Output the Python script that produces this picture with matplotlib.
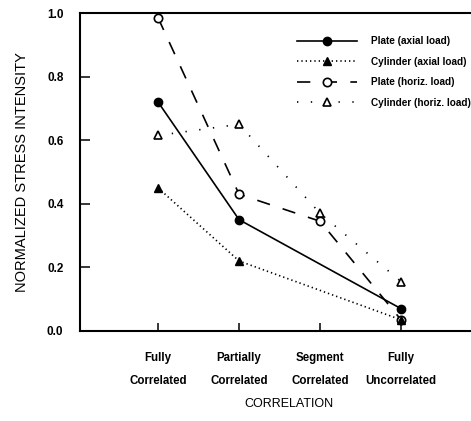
import numpy as np
import matplotlib
matplotlib.use("Agg")
import matplotlib.pyplot as plt

plt.rcParams["font.family"] = ["Liberation Sans", "DejaVu Sans"]

# ─── Datos ──────────────────────────────────────────────────────────────────
categories = ["Fully\nCorrelated", "Partially\nCorrelated",
              "Segment\nCorrelated", "Fully\nUncorrelated"]

# las series "axial" no tienen punto en "Segment Correlated"
x_axial = [0, 1, 3]
x_horiz = [0, 1, 2, 3]

plate_axial = [0.72, 0.35, 0.07]
cyl_axial = [0.45, 0.22, 0.035]
plate_horiz = [0.985, 0.43, 0.345, 0.035]
cyl_horiz = [0.615, 0.65, 0.37, 0.155]

yticks = [0.0, 0.2, 0.4, 0.6, 0.8, 1.0]

# ─── Figura ─────────────────────────────────────────────────────────────────
fig = plt.figure(figsize=(4.71, 4.21), dpi=100)
ax = fig.add_axes([0.170, 0.214, 0.83, 0.755])

lw = 1.2
ax.plot(x_axial, plate_axial, color="black", lw=lw, ls="-",
        marker="o", ms=6, mfc="black", label="Plate (axial load)", zorder=3)
ax.plot(x_horiz, plate_horiz, color="black", lw=lw, ls=(0, (8, 8)),
        marker="o", ms=6, mfc="white", mew=1.2, label="Plate (horiz. load)",
        zorder=2)
ax.plot(x_axial, cyl_axial, color="black", lw=lw, ls=(0, (0.8, 1.8)),
        marker="^", ms=5.5, mfc="black", label="Cylinder (axial load)", zorder=4)
ax.plot(x_horiz, cyl_horiz, color="black", lw=lw, ls=(0, (0.8, 7.5)),
        marker="^", ms=5.5, mfc="white", mew=1.2, label="Cylinder (horiz. load)",
        zorder=2)

ax.set_xlim(-0.963, 3.864)
ax.set_ylim(0, 1.0)

ax.set_xticks(range(len(categories)))
ax.set_xticklabels(categories, fontsize=8.3, fontweight="bold", linespacing=2.25)
ax.set_yticks(yticks)
ax.set_yticklabels([f"{v:.1f}" for v in yticks], fontsize=8.5, fontweight="bold")

ax.tick_params(axis="y", direction="in", length=7, width=1.1, pad=12)
ax.tick_params(axis="x", direction="in", length=6, width=1.1, pad=15)

for s in ["left", "bottom", "top"]:
    ax.spines[s].set_linewidth(1.5)
ax.spines["right"].set_visible(False)

ax.set_ylabel("NORMALIZED STRESS INTENSITY", fontsize=10.5)
ax.yaxis.set_label_coords(-0.13, 0.5)
ax.set_xlabel("CORRELATION", fontsize=9)
ax.xaxis.set_label_coords(0.535, -0.21)

h, l = ax.get_legend_handles_labels()
order = [0, 2, 1, 3]
ax.legend([h[i] for i in order], [l[i] for i in order],
          loc="upper left", bbox_to_anchor=(0.545, 0.94), frameon=False,
          handlelength=6.0, handletextpad=1.4, labelspacing=1.05,
          borderaxespad=0, prop={"weight": "bold", "size": 7.2})

fig.savefig("out.png", dpi=100)
